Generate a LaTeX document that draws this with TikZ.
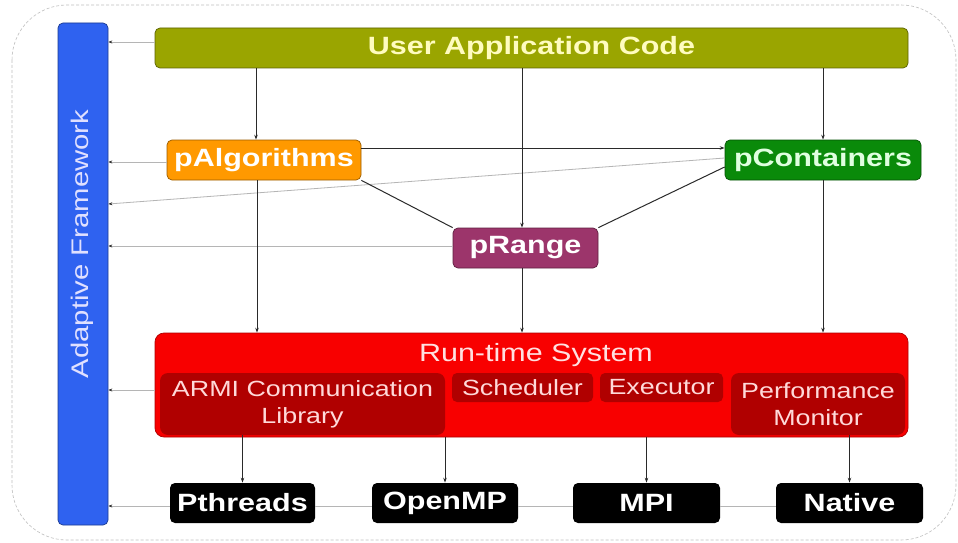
\documentclass[tikz,border=0pt]{standalone}
\usepackage{fontspec}
\setmainfont{Liberation Sans}
\usetikzlibrary{arrows.meta,calc}
\definecolor{olivebox}{HTML}{9AA500}
\definecolor{orangebox}{HTML}{FF9900}
\definecolor{greenbox}{HTML}{0A8A0A}
\definecolor{plumbox}{HTML}{9C356B}
\definecolor{redbox}{HTML}{F80000}
\definecolor{darkred}{HTML}{B00000}
\definecolor{bluebar}{HTML}{2F62F0}
\definecolor{conncol}{HTML}{2A2A2A}
\definecolor{faint}{HTML}{B5B5B5}
\newcommand\wide[1]{\scalebox{1.22}[1]{#1}}
\tikzset{
  box/.style={rectangle, rounded corners=5pt, inner sep=0pt, line width=0.7pt},
  boldbig/.style={font=\fontsize{25}{30}\selectfont\bfseries},
  subtext/.style={font=\fontsize{22}{27}\selectfont, text=white!85!red, align=center},
  conn/.style={draw=conncol, line width=1pt, -{Stealth[length=5pt,width=3.5pt]}},
  plainconn/.style={draw=conncol, line width=1pt},
  faintconn/.style={draw=faint, line width=0.8pt, -{Stealth[length=4pt,width=3pt,color=conncol]}},
  faintline/.style={draw=faint, line width=0.8pt},
}
\begin{document}
\begin{tikzpicture}[x=1pt,y=-1pt]
\useasboundingbox (0,0) rectangle (958,543);
\fill[white] (0,0) rectangle (958,543);
% outer frame
\draw[gray!50, densely dashed, line width=0.6pt, rounded corners=55pt] (12,5) rectangle (956,540);

% adaptive framework bar
\node[box, fill=bluebar, draw=bluebar!60!black, minimum width=50pt, minimum height=502pt] (blue) at (83,274) {};
\node[rotate=90, font=\fontsize{24}{28}\selectfont, text=white!88!blue] (aflabel) at (82,244) {\wide{Adaptive Framework}};

% top row
\node[box, fill=olivebox, draw=olivebox!60!black, minimum width=753pt, minimum height=40pt, boldbig, text=yellow!25!white] (user) at (531.5,48) {\wide{User Application Code}};
\node[box, fill=orangebox, draw=orangebox!60!black, minimum width=194pt, minimum height=40pt, boldbig, text=white] (palg) at (264,160) {\wide{pAlgorithms}};
\node[box, fill=greenbox, draw=greenbox!60!black, minimum width=196pt, minimum height=40pt, boldbig, text=green!12!white] (pcont) at (823,160) {\wide{pContainers}};
\node[box, fill=plumbox, draw=plumbox!60!black, minimum width=145pt, minimum height=40pt, boldbig, text=white] (prange) at (525.5,248) {\wide{pRange}};

% run-time system
\node[box, rounded corners=9pt, fill=redbox, draw=redbox!70!black, minimum width=753pt, minimum height=104pt] (rts) at (531.5,385) {};
\node[font=\fontsize{25}{30}\selectfont, text=white!88!red] (rtstitle) at (536,355) {\wide{Run-time System}};
\node[box, rounded corners=8pt, fill=darkred, minimum width=285pt, minimum height=62pt, subtext] (armi) at (302.5,404) {\wide{ARMI Communication}\\\wide{Library}};
\node[box, fill=darkred, minimum width=141pt, minimum height=29pt, subtext] (sched) at (522.5,387.5) {\wide{Scheduler}};
\node[box, fill=darkred, minimum width=123pt, minimum height=29pt, subtext] (exec) at (661.5,387.5) {\wide{Executor}};
\node[box, rounded corners=8pt, fill=darkred, minimum width=174pt, minimum height=62pt, subtext] (perf) at (818,404) {\wide{Performance}\\\wide{Monitor}};

% bottom row
\node[box, fill=black, minimum width=145pt, minimum height=40pt, boldbig, text=white] (pth) at (242.5,503) {\wide{Pthreads}};
\node[box, fill=black, minimum width=146pt, minimum height=40pt, boldbig, text=white] (omp) at (445,503) {\wide{OpenMP}};
\node[box, fill=black, minimum width=147pt, minimum height=40pt, boldbig, text=white] (mpi) at (646.5,503) {\wide{MPI}};
\node[box, fill=black, minimum width=147pt, minimum height=40pt, boldbig, text=white] (nat) at (849.5,503) {\wide{Native}};

% faint lines to the adaptive framework
\draw[faintconn] (user.west |- 0,42) -- (blue.east |- 0,42);
\draw[faintconn] (palg.west |- 0,162) -- (blue.east |- 0,162);
\draw[faintconn] ([yshift=2pt]pcont.west) -- (blue.east |- 0,204);
\draw[faintconn] (prange.west |- 0,246) -- (blue.east |- 0,246);
\draw[faintconn] (rts.west |- 0,390) -- (blue.east |- 0,390);
\draw[faintconn] (pth.west |- 0,506) -- (blue.east |- 0,506);
\draw[faintline] (pth.east |- 0,506) -- (omp.west |- 0,506);
\draw[faintline] (omp.east |- 0,506) -- (mpi.west |- 0,506);
\draw[faintline] (mpi.east |- 0,506) -- (nat.west |- 0,506);

% dark connectors
\draw[conn] (user.south -| 256,0) -- (palg.north -| 256,0);
\draw[conn] (user.south -| 522,0) -- (prange.north -| 522,0);
\draw[conn] (user.south -| pcont.north) -- (pcont.north);
\draw[conn] (palg.east |- 0,148) -- (pcont.west |- 0,148);
\draw[plainconn] (palg.south east) -- (prange.north west);
\draw[plainconn] (prange.north east) -- ([yshift=-7pt]pcont.west);
\draw[conn] (palg.south -| 257,0) -- (rts.north -| 257,0);
\draw[conn] (prange.south -| 522,0) -- (rts.north -| 522,0);
\draw[conn] (pcont.south) -- (rts.north -| pcont.south);
\draw[conn] (armi.south -| pth.north) -- (pth.north);
\draw[conn] (rts.south -| omp.north) -- (omp.north);
\draw[conn] (rts.south -| mpi.north) -- (mpi.north);
\draw[conn] (perf.south -| nat.north) -- (nat.north);
\end{tikzpicture}
\end{document}
